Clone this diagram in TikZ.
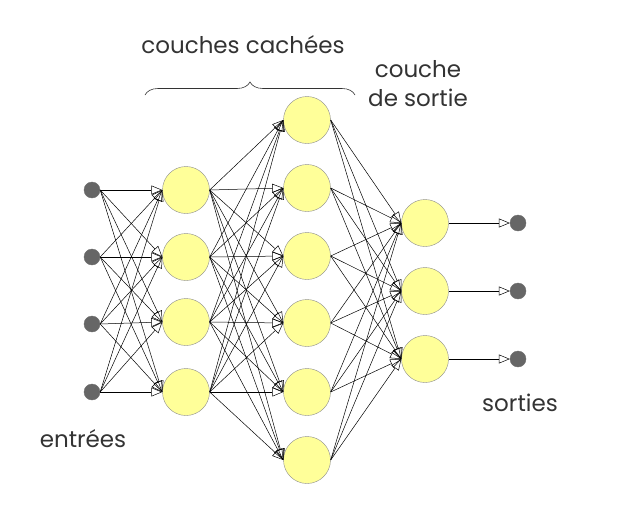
\documentclass[tikz,border=0pt]{standalone}
\usepackage{fontspec}
\setmainfont{Poppins}
\usetikzlibrary{arrows.meta,decorations.pathreplacing}
\definecolor{neurone}{HTML}{FFFF99}
\definecolor{bord}{HTML}{8C8C8C}
\definecolor{entree}{HTML}{666666}
\definecolor{texte}{HTML}{333333}
\tikzset{
  neur/.style={circle,draw=bord,fill=neurone,minimum size=47pt,inner sep=0pt},
  point/.style={circle,draw=bord!80!black,fill=entree,minimum size=16pt,inner sep=0pt},
  lien/.style={-{Triangle[open,length=11pt,width=9pt]},line width=0.5pt},
  titre/.style={text=texte,font=\fontsize{23}{29}\selectfont}
}
\begin{document}
\begin{tikzpicture}[x=1pt,y=-1pt]
\useasboundingbox (0,0) rectangle (624,528);
% neurones
\foreach \y [count=\i] in {190,257,324,392}
  \node [point] (e\i) at (92,\y) {};
\foreach \y [count=\i] in {190,257,322,392}
  \node [neur] (a\i) at (186,\y) {};
\foreach \y [count=\i] in {120,188,256,323,392,460}
  \node [neur] (b\i) at (307,\y) {};
\foreach \y [count=\i] in {223,291,359}
  \node [neur] (c\i) at (425,\y) {};
\foreach \y [count=\i] in {223,291,359}
  \node [point] (s\i) at (518,\y) {};
% connexions
\foreach \i in {1,...,4}
  \foreach \j in {1,...,4}
    \draw [lien] (e\i.east) -- (a\j.west);
\foreach \i in {1,...,4}
  \foreach \j in {1,...,6}
    \draw [lien] (a\i.east) -- (b\j.west);
\foreach \i in {1,...,6}
  \foreach \j in {1,...,3}
    \draw [lien] (b\i.east) -- (c\j.west);
\foreach \i in {1,...,3}
  \draw [lien] (c\i.east) -- (s\i.west);
% textes
\draw [decorate,decoration={brace,amplitude=13pt},line width=0.6pt,draw=texte]
  (145,95) -- (355,95);
\node [titre] (cachees) at (243,45) {couches cachées};
\node [titre,align=center] (sortie) at (418,84) {couche\\de sortie};
\node [titre] (sorties) at (520,403) {sorties};
\node [titre] (entrees) at (83,439) {entrées};
\end{tikzpicture}
\end{document}
